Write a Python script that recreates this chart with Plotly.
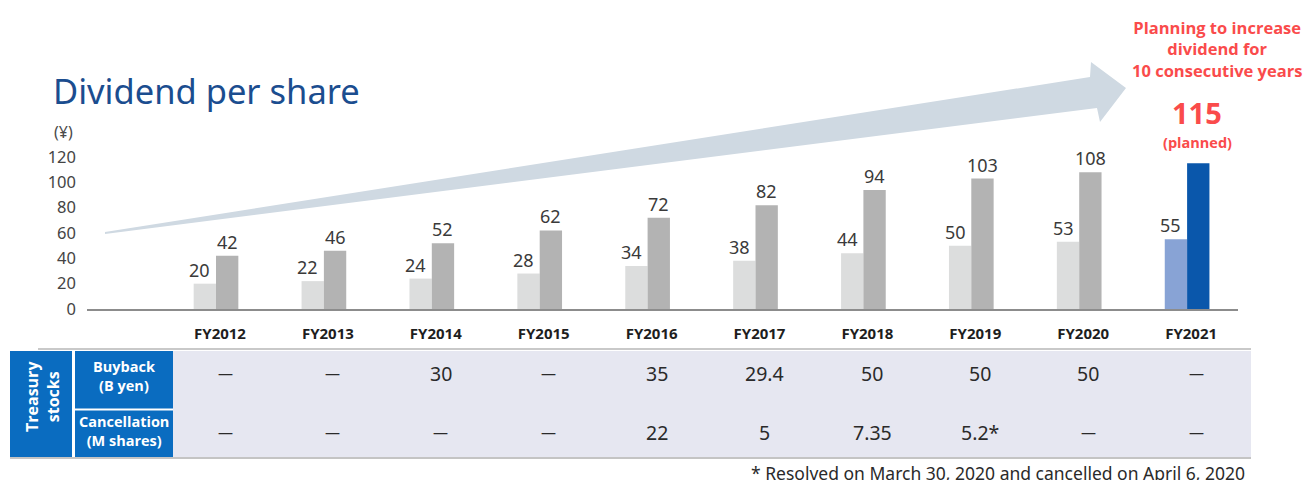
import plotly.graph_objects as go

# ---- data -------------------------------------------------------------
years = ["FY2012", "FY2013", "FY2014", "FY2015", "FY2016",
         "FY2017", "FY2018", "FY2019", "FY2020", "FY2021"]
interim_dps = [20, 22, 24, 28, 34, 38, 44, 50, 53, 55]
annual_dps = [42, 46, 52, 62, 72, 82, 94, 103, 108, 115]
buyback_b_yen = ["—", "—", "30", "—", "35", "29.4", "50", "50", "50", "—"]
cancellation_m_shares = ["—", "—", "—", "—", "22", "5", "7.35", "5.2*", "—", "—"]
y_ticks = [0, 20, 40, 60, 80, 100, 120]

# ---- canvas helpers (margins are zero, so paper == whole canvas) -----
W, H = 1309, 480


def px(x):
    return x / W


def py(y):
    return 1 - y / H


def note(x, y, text, font, **kw):
    """Text centred on a canvas pixel position."""
    d = dict(x=px(x), y=py(y), xref="paper", yref="paper", text=text,
             showarrow=False, xanchor="center", yanchor="middle", font=font)
    d.update(kw)
    return d


# plot area in pixels
X0, X1 = 87, 1238          # x-axis line extent
Y_ZERO, PX_PER_UNIT = 309, 152 / 120
Y_MAX = 125
Y_TOP = Y_ZERO - Y_MAX * PX_PER_UNIT
FIRST_CENTER, STEP = 216, 107.9
x_range = [-(FIRST_CENTER - X0) / STEP, (X1 - FIRST_CENTER) / STEP]

xs = list(range(len(years)))
bar_w = 0.207

light_cols = ["#dcdddd"] * (len(years) - 1) + ["#88a3d5"]
dark_cols = ["#b3b3b3"] * (len(years) - 1) + ["#0a57ab"]

fig = go.Figure()

# ---- big rising arrow behind the bars --------------------------------
arrow_pts = [(105, 232), (1090, 77), (1091, 62), (1126, 88),
             (1100, 122), (1097, 108), (105, 234)]
path = "M " + " L ".join(f"{px(x):.5f},{py(y):.5f}" for x, y in arrow_pts) + " Z"
shapes = [dict(type="path", path=path, xref="paper", yref="paper",
               fillcolor="#cfd9e2", line=dict(width=0), layer="below")]

fig.add_trace(go.Bar(x=xs, y=interim_dps, offset=-bar_w, width=bar_w,
                     marker=dict(color=light_cols, line=dict(width=0)),
                     hoverinfo="skip", showlegend=False))
fig.add_trace(go.Bar(x=xs, y=annual_dps, offset=0, width=bar_w,
                     marker=dict(color=dark_cols, line=dict(width=0)),
                     hoverinfo="skip", showlegend=False))

annotations = []
# value labels above the bars
lbl_font = dict(family="Noto Sans", size=18, color="#3a3a3a")
for i, v in enumerate(interim_dps):
    annotations.append(dict(x=i - bar_w / 2, y=v, xref="x", yref="y", text=str(v),
                            showarrow=False, xanchor="center", yanchor="bottom",
                            xshift=-5, font=lbl_font))
for i, v in enumerate(annual_dps[:-1]):
    annotations.append(dict(x=i + bar_w / 2, y=v, xref="x", yref="y", text=str(v),
                            showarrow=False, xanchor="center", yanchor="bottom",
                            font=lbl_font))

RED = "#fa4b4b"
annotations.append(note(1197, 113, f"<b>{annual_dps[-1]}</b>",
                        dict(family="Open Sans", size=29, color=RED)))
annotations.append(note(1197, 142, "<b>(planned)</b>",
                        dict(family="Open Sans", size=14.5, color=RED)))
annotations.append(note(1217, 49,
                        "<b>Planning to increase<br>dividend for<br>10 consecutive years</b>",
                        dict(family="Open Sans", size=16.5, color=RED), align="center"))

# title and unit
annotations.append(note(51, 90, "Dividend per share",
                        dict(family="Noto Sans", size=34.5, color="#1b4d8f"),
                        xanchor="left"))
annotations.append(note(63, 132, "(¥)", dict(family="Noto Sans", size=16, color="#4a4a4a")))

# ---- treasury stock table --------------------------------------------
T_TOP, T_MID, T_BOT = 351, 409, 457
BLUE = "#0a6cc0"
shapes += [
    dict(type="rect", xref="paper", yref="paper", x0=px(173), x1=px(1251),
         y0=py(T_TOP), y1=py(T_BOT), fillcolor="#e6e7f1", line=dict(width=0)),
    dict(type="rect", xref="paper", yref="paper", x0=px(10), x1=px(72),
         y0=py(T_TOP), y1=py(T_BOT), fillcolor=BLUE, line=dict(width=0)),
    dict(type="rect", xref="paper", yref="paper", x0=px(75), x1=px(173),
         y0=py(T_TOP), y1=py(T_MID - 0.5), fillcolor=BLUE, line=dict(width=0)),
    dict(type="rect", xref="paper", yref="paper", x0=px(75), x1=px(173),
         y0=py(T_MID + 1.5), y1=py(T_BOT), fillcolor=BLUE, line=dict(width=0)),
    dict(type="line", xref="paper", yref="paper", x0=px(38), x1=px(1251),
         y0=py(349), y1=py(349), line=dict(color="#c9c9c9", width=2)),
    dict(type="line", xref="paper", yref="paper", x0=px(10), x1=px(1251),
         y0=py(458), y1=py(458), line=dict(color="#c4c4c4", width=2)),
]

hdr_font = dict(family="Open Sans", size=14.5, color="white")
annotations.append(note(124, 376, "<b>Buyback<br>(B yen)</b>", hdr_font))
annotations.append(note(124, 431, "<b>Cancellation<br>(M shares)</b>", hdr_font))
annotations.append(note(42, 397, "<b>Treasury<br>stocks</b>",
                        dict(family="Open Sans", size=16, color="white"),
                        textangle=-90))

cell_font = dict(family="Noto Sans", size=19.5, color="#2a2a2a")
dash_font = dict(family="Noto Sans", size=15, color="#2a2a2a")
for i, (b, c) in enumerate(zip(buyback_b_yen, cancellation_m_shares)):
    for row_y, val in ((373, b), (432, c)):
        annotations.append(dict(x=i, y=py(row_y), xref="x", yref="paper", text=val,
                                showarrow=False, xanchor="center", yanchor="middle",
                                xshift=9,
                                font=dash_font if val == "—" else cell_font))

annotations.append(note(749, 473,
                        "* Resolved on March 30, 2020 and cancelled on April 6, 2020",
                        dict(family="Noto Sans", size=17.5, color="#2a2a2a"),
                        xanchor="left"))

fig.update_layout(
    width=W, height=H,
    margin=dict(l=0, r=0, t=0, b=0, pad=0, autoexpand=False),
    paper_bgcolor="white", plot_bgcolor="rgba(0,0,0,0)",
    barmode="overlay",
    shapes=shapes,
    annotations=annotations,
    xaxis=dict(domain=[px(X0), px(X1)], range=x_range, automargin=False,
               tickmode="array", tickvals=xs, ticktext=years,
               ticklabelshift=4, ticklabelstandoff=10,
               showline=True, linecolor="#8c8c8c", linewidth=2,
               showgrid=False, zeroline=False, ticks="",
               tickfont=dict(family="Open Sans", size=15, color="#1e1e1e",
                             weight="bold")),
    yaxis=dict(domain=[py(Y_ZERO), py(Y_TOP)], range=[0, Y_MAX], automargin=False,
               tickmode="array", tickvals=y_ticks,
               showgrid=False, zeroline=False, showline=False, ticks="",
               ticklabelstandoff=10,
               tickfont=dict(family="Noto Sans", size=16.5, color="#444444")),
)

fig.write_html("out.html")
